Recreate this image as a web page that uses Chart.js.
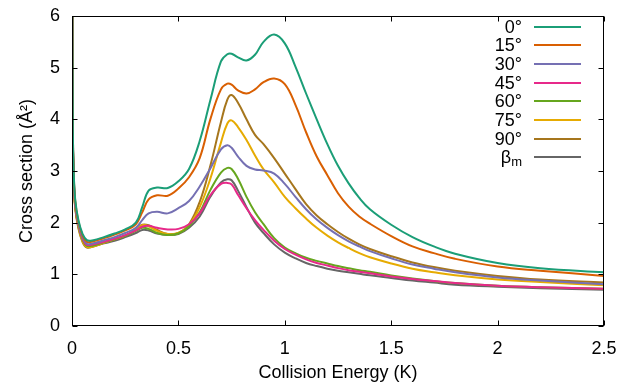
<!DOCTYPE html>
<html><head><meta charset="utf-8">
<script src="https://cdn.jsdelivr.net/npm/chart.js@4"></script>
<style>html,body{margin:0;padding:0;background:#fff}canvas{display:block}</style>
</head><body>
<canvas id="c" width="621" height="386" style="width:621px;height:386px"></canvas>
<script>
// Collision energy grid (K)
const energy = [0.001, 0.004, 0.008, 0.015, 0.03, 0.05, 0.07, 0.1, 0.15, 0.2, 0.25, 0.3, 0.33, 0.36, 0.4, 0.45, 0.5, 0.55, 0.6, 0.65, 0.7, 0.73, 0.75, 0.78, 0.82, 0.86, 0.9, 0.95, 1.0, 1.05, 1.1, 1.15, 1.2, 1.25, 1.3, 1.35, 1.4, 1.5, 1.6, 1.7, 1.8, 2.0, 2.2, 2.5];

// Cross sections (Å^2)
const deg0  = [7.0, 3.8, 3.0, 2.45, 2.05, 1.78, 1.66, 1.66, 1.72, 1.79, 1.87, 2.0, 2.3, 2.62, 2.68, 2.67, 2.8, 3.04, 3.58, 4.37, 5.12, 5.26, 5.27, 5.2, 5.14, 5.25, 5.5, 5.64, 5.47, 5.02, 4.5, 4.0, 3.52, 3.1, 2.76, 2.48, 2.26, 1.96, 1.72, 1.54, 1.40, 1.22, 1.12, 1.04];
const deg15 = [6.9, 3.75, 2.97, 2.42, 2.02, 1.75, 1.63, 1.64, 1.70, 1.77, 1.85, 1.97, 2.2, 2.45, 2.53, 2.52, 2.66, 2.88, 3.25, 4.0, 4.58, 4.69, 4.67, 4.56, 4.50, 4.58, 4.72, 4.79, 4.68, 4.28, 3.75, 3.28, 2.92, 2.57, 2.31, 2.12, 1.98, 1.74, 1.54, 1.41, 1.30, 1.15, 1.07, 0.97];
const deg30 = [6.8, 3.7, 2.93, 2.38, 1.98, 1.71, 1.59, 1.60, 1.66, 1.72, 1.80, 1.90, 2.05, 2.18, 2.21, 2.18, 2.28, 2.42, 2.7, 3.05, 3.42, 3.50, 3.45, 3.28, 3.10, 3.03, 3.01, 2.95, 2.75, 2.50, 2.26, 2.06, 1.90, 1.76, 1.64, 1.54, 1.45, 1.31, 1.19, 1.11, 1.04, 0.94, 0.88, 0.81];
const deg45 = [6.7, 3.65, 2.9, 2.35, 1.96, 1.69, 1.57, 1.58, 1.63, 1.69, 1.76, 1.85, 1.92, 1.94, 1.90, 1.87, 1.88, 1.97, 2.18, 2.53, 2.75, 2.77, 2.74, 2.54, 2.28, 2.05, 1.86, 1.65, 1.49, 1.38, 1.29, 1.22, 1.17, 1.12, 1.08, 1.05, 1.02, 0.96, 0.91, 0.87, 0.83, 0.78, 0.75, 0.72];
const deg60 = [6.65, 3.62, 2.88, 2.33, 1.94, 1.67, 1.55, 1.56, 1.62, 1.68, 1.75, 1.84, 1.90, 1.88, 1.80, 1.76, 1.79, 1.93, 2.2, 2.63, 2.97, 3.06, 3.04, 2.85, 2.5, 2.2, 1.97, 1.70, 1.52, 1.41, 1.32, 1.26, 1.21, 1.16, 1.12, 1.08, 1.05, 0.98, 0.92, 0.87, 0.83, 0.78, 0.75, 0.72];
const deg75 = [6.6, 3.58, 2.84, 2.30, 1.91, 1.64, 1.53, 1.54, 1.61, 1.68, 1.75, 1.86, 1.95, 1.93, 1.84, 1.78, 1.80, 1.95, 2.3, 2.85, 3.55, 3.92, 3.98, 3.85, 3.6, 3.3, 3.03, 2.78, 2.50, 2.28, 2.08, 1.90, 1.75, 1.62, 1.51, 1.41, 1.33, 1.21, 1.11, 1.04, 0.98, 0.90, 0.85, 0.79];
const deg90 = [6.6, 3.56, 2.82, 2.28, 1.89, 1.62, 1.52, 1.54, 1.61, 1.68, 1.75, 1.86, 1.96, 1.95, 1.86, 1.78, 1.80, 1.97, 2.4, 3.1, 3.95, 4.38, 4.47, 4.32, 4.0, 3.7, 3.52, 3.25, 2.95, 2.65, 2.36, 2.14, 1.97, 1.82, 1.69, 1.58, 1.49, 1.35, 1.23, 1.14, 1.07, 0.97, 0.90, 0.84];
const betaM = [6.65, 3.6, 2.86, 2.32, 1.93, 1.66, 1.55, 1.55, 1.60, 1.65, 1.72, 1.80, 1.86, 1.85, 1.79, 1.76, 1.78, 1.90, 2.12, 2.50, 2.78, 2.84, 2.82, 2.62, 2.30, 2.00, 1.80, 1.58, 1.42, 1.31, 1.22, 1.16, 1.11, 1.07, 1.04, 1.01, 0.98, 0.93, 0.88, 0.84, 0.80, 0.76, 0.73, 0.70];

const seriesLabels = ['0°', '15°', '30°', '45°', '60°', '75°', '90°', 'βm'];
const seriesColors = ['#1b9e77', '#d95f02', '#7570b3', '#e7298a', '#66a61e', '#e6ab02', '#a6761d', '#666666'];
const seriesValues = [deg0, deg15, deg30, deg45, deg60, deg75, deg90, betaM];
const xTicks = [0, 0.5, 1, 1.5, 2, 2.5];
const yTicks = [0, 1, 2, 3, 4, 5, 6];

const FONT = "'Liberation Sans', Arial, Helvetica, sans-serif";

const datasets = seriesValues.map((vals, i) => ({
  label: seriesLabels[i],
  data: energy.map((e, j) => ({ x: e, y: vals[j] })),
  borderColor: seriesColors[i],
  backgroundColor: seriesColors[i],
  borderWidth: 2,
  pointRadius: 0,
  fill: false,
  tension: 0.4
}));

const framePlugin = {
  id: 'frameTicks',
  afterDatasetsDraw(chart) {
    const { ctx, chartArea: a, scales } = chart;
    ctx.save();
    ctx.strokeStyle = '#000';
    ctx.lineWidth = 1;
    const L = Math.round(a.left) + 0.5, R = Math.round(a.right) - 0.5;
    const T = Math.round(a.top) + 0.5, B = Math.round(a.bottom) - 0.5;
    ctx.strokeRect(L, T, R - L, B - T);
    const tl = 5;
    ctx.beginPath();
    xTicks.forEach(v => {
      const px = Math.round(scales.x.getPixelForValue(v)) + 0.5;
      ctx.moveTo(px, B); ctx.lineTo(px, B - tl);
      ctx.moveTo(px, T); ctx.lineTo(px, T + tl);
    });
    yTicks.forEach(v => {
      const py = Math.round(scales.y.getPixelForValue(v)) + 0.5;
      ctx.moveTo(L, py); ctx.lineTo(L + tl, py);
      ctx.moveTo(R, py); ctx.lineTo(R - tl, py);
    });
    ctx.stroke();
    ctx.restore();
  }
};

const legendPlugin = {
  id: 'gnuLegend',
  afterDraw(chart) {
    const { ctx } = chart;
    const textRight = 522, lineX0 = 534, lineX1 = 581, y0 = 26.7, dy = 18.67;
    ctx.save();
    ctx.textBaseline = 'middle';
    ctx.fillStyle = '#000';
    chart.data.datasets.forEach((ds, i) => {
      const y = y0 + i * dy;
      const lab = ds.label;
      ctx.textAlign = 'right';
      if (lab === 'βm') {
        ctx.font = '13px ' + FONT;
        const mw = ctx.measureText('m').width;
        ctx.fillText('m', textRight, y + 5);
        ctx.font = '18px ' + FONT;
        ctx.fillText('β', textRight - mw, y + 1);
      } else {
        ctx.font = '18px ' + FONT;
        ctx.fillText(lab, textRight, y + 1);
      }
      ctx.strokeStyle = ds.borderColor;
      ctx.lineWidth = 2;
      ctx.beginPath();
      ctx.moveTo(lineX0, Math.round(y));
      ctx.lineTo(lineX1, Math.round(y));
      ctx.stroke();
    });
    ctx.restore();
  }
};

new Chart(document.getElementById('c'), {
  type: 'line',
  data: { datasets },
  options: {
    responsive: false,
    devicePixelRatio: 1,
    animation: false,
    events: [],
    layout: { padding: { top: 16, right: 17, left: 0, bottom: 0 } },
    plugins: { legend: { display: false }, tooltip: { enabled: false } },
    scales: {
      x: {
        type: 'linear', min: 0, max: 2.5,
        afterFit: s => { s.height = 60; s.paddingLeft = 0; s.paddingRight = 0; },
        afterBuildTicks: s => { s.ticks = xTicks.map(v => ({ value: v })); },
        grid: { display: false, drawTicks: false },
        border: { display: false },
        ticks: { color: '#000', font: { family: FONT, size: 18 }, padding: 12, maxRotation: 0, callback: v => String(v) },
        title: { display: true, text: 'Collision Energy (K)', color: '#000', font: { family: FONT, size: 18 }, padding: { top: 0, bottom: 2 } }
      },
      y: {
        type: 'linear', min: 0, max: 6,
        afterFit: s => { s.width = 72; s.paddingTop = 0; s.paddingBottom = 0; },
        afterBuildTicks: s => { s.ticks = yTicks.map(v => ({ value: v })); },
        grid: { display: false, drawTicks: false },
        border: { display: false },
        ticks: { color: '#000', font: { family: FONT, size: 18 }, padding: 12, callback: v => String(v) },
        title: { display: true, text: 'Cross section (Å²)', color: '#000', font: { family: FONT, size: 18 }, padding: { top: 16, bottom: 0 } }
      }
    }
  },
  plugins: [framePlugin, legendPlugin]
});
</script>
</body></html>
